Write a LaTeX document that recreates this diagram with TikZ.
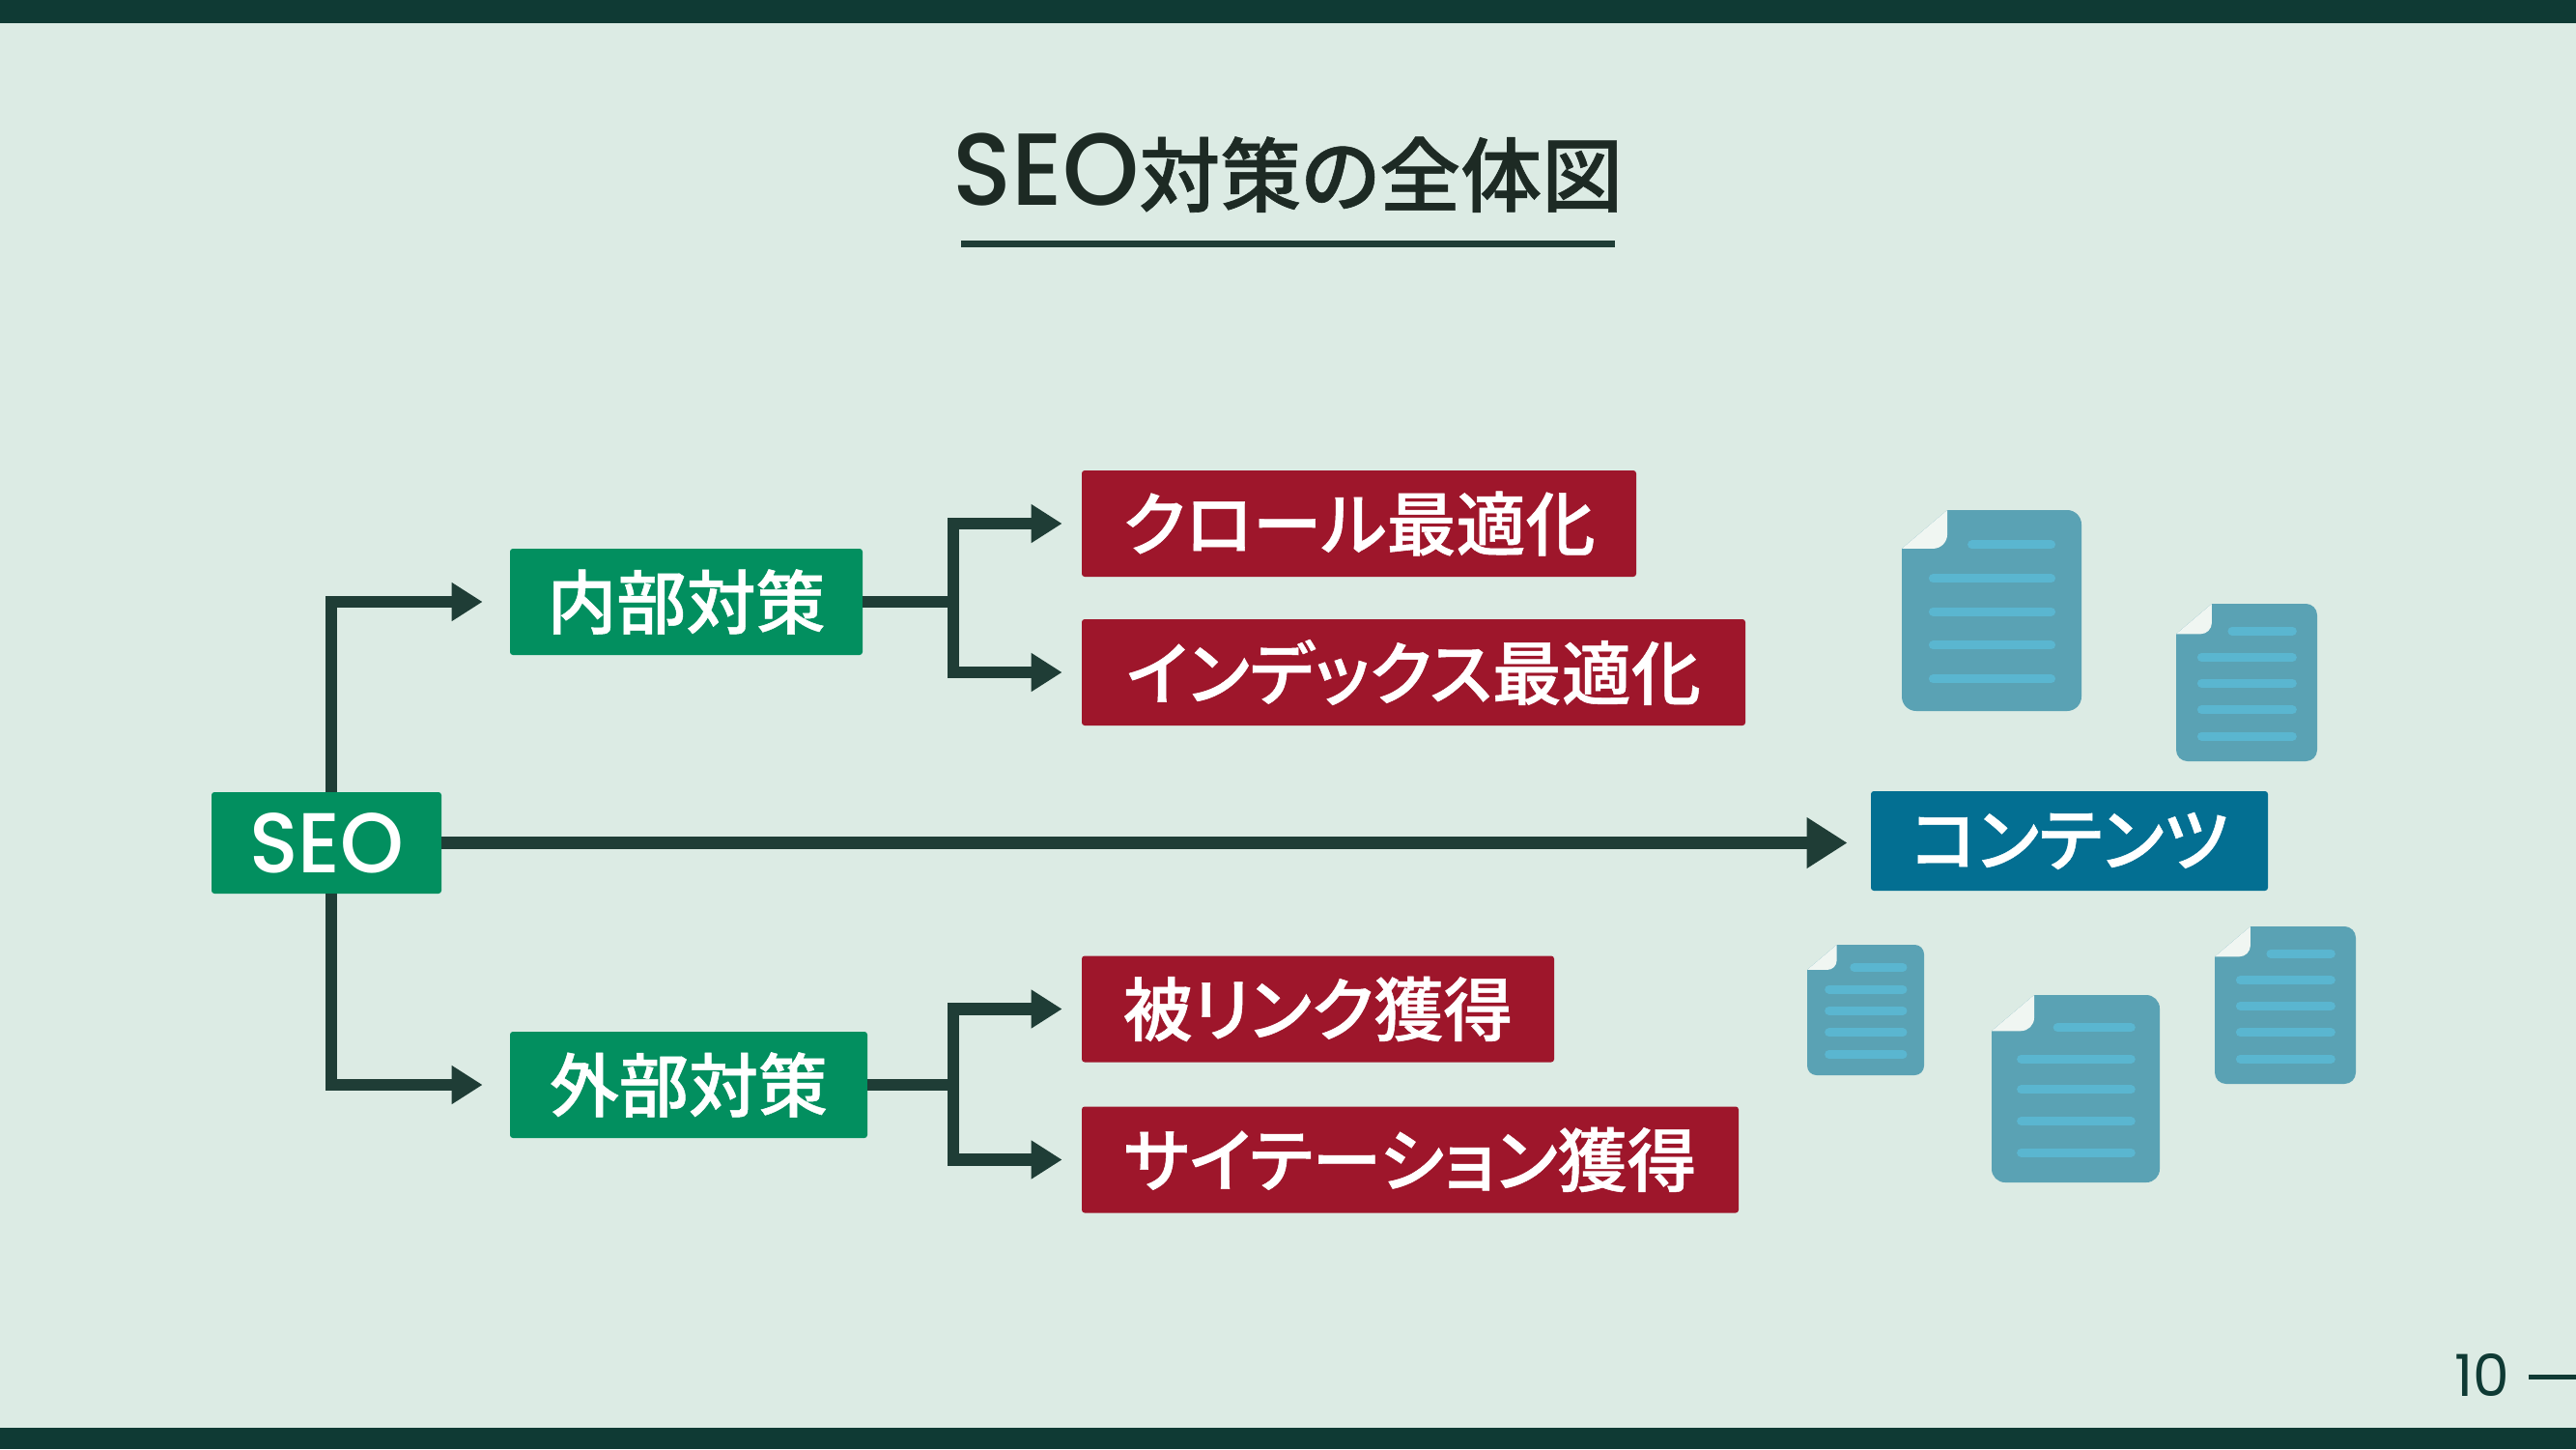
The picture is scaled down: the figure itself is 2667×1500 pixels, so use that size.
\documentclass[tikz,border=0pt]{standalone}
\usepackage{fontspec}
\usetikzlibrary{arrows.meta,calc,positioning}
\setmainfont{Poppins}
\newfontfamily\jpfont{Noto Sans CJK JP}[BoldFont=* Medium,BoldFeatures={FakeBold=0.7},RawFeature=+palt]
\newfontfamily\seofont{Poppins}[BoldFont=* Medium,FakeStretch=0.95]
\definecolor{PageBack}{HTML}{DCEBE4}
\definecolor{BarDark}{HTML}{0F3A34}
\definecolor{LineDark}{HTML}{1F3D36}
\definecolor{TitleInk}{HTML}{1D2A24}
\definecolor{SeoGreen}{HTML}{028F5F}
\definecolor{TaskRed}{HTML}{9E162B}
\definecolor{ContentBlue}{HTML}{036F92}
\definecolor{DocBody}{HTML}{5AA2B4}
\definecolor{DocLine}{HTML}{5AB6D0}
\definecolor{DocFold}{HTML}{F0F6F2}
% #1,#2 top left corner, #3 width, #4 height of one page icon
\newcommand{\docicon}[4]{%
  \begin{scope}[shift={(#1,#2)},x=#3*0.5pt,y=-#4*0.5pt]
    \fill[DocBody] (0.253,0) [rounded corners=#3*0.04pt] -- (1,0) -- (1,1)
      -- (0,1) [sharp corners] -- (0,0.192) -- cycle;
    \fill[DocFold] (0.253,0) [rounded corners=#3*0.04pt] -- (0.253,0.192)
      [sharp corners] -- (0,0.192) -- cycle;
    \foreach \y/\left in {0.173/0.366,0.341/0.15,0.505/0.15,0.673/0.15,0.841/0.15}{%
      \draw[DocLine,line width=4.5pt,line cap=round]
        ([xshift=2.25pt]\left,\y) -- ([xshift=-2.25pt]0.855,\y);
    }
  \end{scope}}
\begin{document}
\begin{tikzpicture}[x=0.5pt,y=-0.5pt,
    basebox/.style={rounded corners=1.5pt,inner sep=0pt,text=white,
                    font=\jpfont\bfseries\fontsize{36}{40}\selectfont},
    greenbox/.style={basebox,fill=SeoGreen},
    redbox/.style={basebox,fill=TaskRed},
    bluebox/.style={basebox,fill=ContentBlue},
    stem/.style={draw=LineDark,line width=6.2pt},
    flow/.style={stem,-{Triangle[length=16pt,width=19pt]}},
    bigflow/.style={stem,-{Triangle[length=21pt,width=25pt]}}]
  \useasboundingbox (0,-1) rectangle (2667,1499);
  \fill[PageBack] (0,-1) rectangle (2667,1499);
  \fill[BarDark] (0,-1) rectangle (2667,23);
  \fill[BarDark] (0,1477) rectangle (2667,1499);

  % Title and its rule
  \node[inner sep=0pt,text=TitleInk,font=\fontsize{42}{48}\selectfont] (title) at (1333.5,178)
    {{\seofont\bfseries\fontsize{53}{48}\selectfont SEO}{\jpfont\bfseries 対策の全体図}};
  \coordinate (ruleleft) at (995,251);
  \coordinate (ruleright) at (1672,251);
  \draw[LineDark,line width=3.5pt] (ruleleft) -- (ruleright);

  \node[greenbox,minimum width=119pt,minimum height=52.5pt,
        font=\seofont\bfseries\fontsize{44}{48}\selectfont] (seo) at (338,871.5) {SEO};
  \node[greenbox,minimum width=182.5pt,minimum height=55pt] (inner) at (710.5,622) {内部対策};
  \node[greenbox,minimum width=185pt,minimum height=55pt] (outer) at (713,1122) {外部対策};
  \node[bluebox,minimum width=205.5pt,minimum height=51.5pt] (content) at (2142.5,869.5) {コンテンツ};
  \foreach \name/\x/\y/\w/\label in {
      crawl/1407/541/287/クロール最適化,
      index/1463.5/695/343.5/インデックス最適化,
      links/1364.5/1043.5/244.5/被リンク獲得,
      cite/1460/1199.5/340/サイテーション獲得}{%
    \node[redbox,minimum width=\w pt,minimum height=55pt] (\name) at (\x,\y) {\label};
  }

  % Split above and below the root box
  \coordinate (seotop) at (343,819);
  \coordinate (seobottom) at (343,924);
  \draw[flow,shorten >=14pt] (seotop) |- (inner.west);
  \draw[flow,shorten >=14pt] (seobottom) |- (outer.west);
  \draw[bigflow,shorten >=12pt] (seo.east) -- (seo.east -| content.west);

  % Each branch meets a short trunk, then forks to its two tasks
  \foreach \from/\upper/\lower in {inner/crawl/index,outer/links/cite}{%
    \coordinate (fork) at (\from.east -| 987,0);
    \draw[stem] (\from.east) -- (fork);
    \draw[flow,shorten >=10pt] (fork) |- (\upper.west);
    \draw[flow,shorten >=10pt] (fork) |- (\lower.west);
  }

  \docicon{1969}{527}{186}{208}
  \docicon{2253}{624}{146}{163}
  \docicon{1871}{977}{121}{135}
  \docicon{2062}{1029}{174}{194}
  \docicon{2293}{958}{146}{163}

  % Page number
  \node[inner sep=0pt,text=BarDark,font=\fontsize{30}{32}\selectfont] (pagenum) at (2570,1422) {10};
  \coordinate (dashleft) at (2618,1424);
  \coordinate (dashright) at (2667,1424);
  \draw[BarDark,line width=2.5pt] (dashleft) -- (dashright);
\end{tikzpicture}
\end{document}
